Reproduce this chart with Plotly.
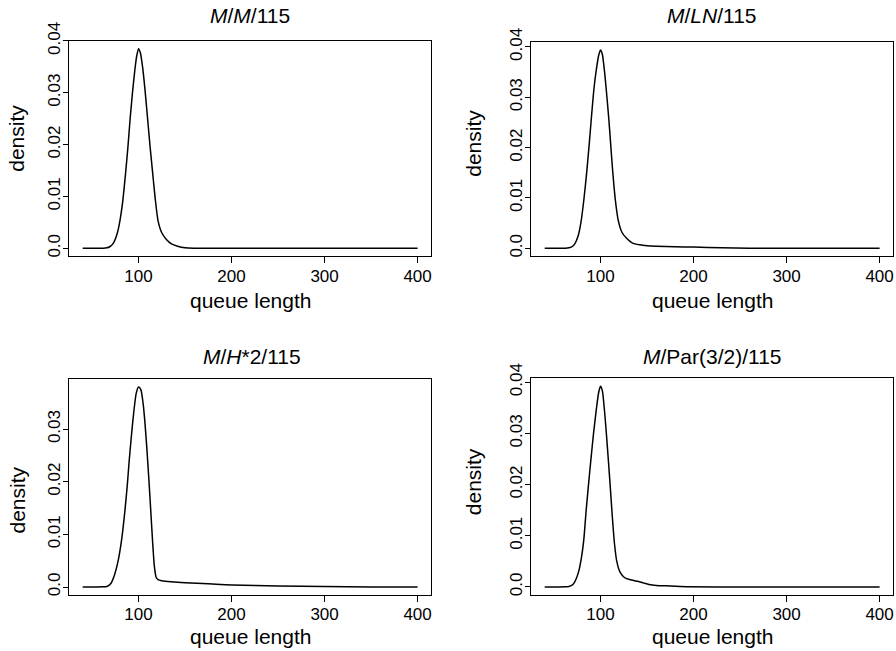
import plotly.graph_objects as go

# ---- data ----
titles = ["<i>M</i>/<i>M</i>/115", "<i>M</i>/<i>LN</i>/115",
          "<i>M</i>/<i>H</i>*2/115", "<i>M</i>/Par(3/2)/115"]

x1 = [40, 55, 62, 66, 69, 73, 77, 80, 83, 86, 88.5, 91, 93.5, 96, 98, 100, 102, 104.5,
      107, 110, 112.5, 115, 118, 121, 125, 130, 135, 142, 150, 160, 200, 300, 400]
y1 = [0, 0, 0.00002, 0.0001, 0.0003, 0.001, 0.0028, 0.0053, 0.009, 0.0143, 0.0193, 0.0250,
      0.0300, 0.0343, 0.0370, 0.0385, 0.0377, 0.0348, 0.0305, 0.0245, 0.0195, 0.0149, 0.0095,
      0.0053, 0.0030, 0.0017, 0.0009, 0.0004, 0.0001, 0.00003, 0, 0, 0]

x2 = [40, 55, 62, 66, 69, 72, 76, 79, 82, 85, 88, 90, 93, 95.5, 98, 100, 102, 104.5, 107,
      109, 111, 113, 116, 119, 123, 128, 134, 142, 150, 160, 180, 200, 230, 260, 300, 400]
y2 = [0, 0, 0.00002, 0.0001, 0.0003, 0.0008, 0.0025, 0.0052, 0.0095, 0.0148, 0.0210, 0.0255,
      0.0318, 0.0355, 0.0383, 0.0394, 0.0385, 0.0348, 0.0298, 0.0255, 0.0205, 0.0155, 0.0095,
      0.0056, 0.0032, 0.0020, 0.0011, 0.0007, 0.0005, 0.0004, 0.0003, 0.00025, 0.0001,
      0.00004, 0, 0]

x3 = [40, 55, 62, 66, 70, 74, 78, 82, 85.5, 88, 90, 92.5, 95, 97.5, 100, 102.5, 105, 107,
      109, 111, 113, 115, 117, 119, 121, 125, 135, 150, 175, 200, 250, 300, 350, 400]
y3 = [0, 0, 0.00003, 0.0001, 0.0006, 0.0022, 0.0049, 0.0092, 0.0147, 0.0195, 0.0240, 0.0290,
      0.0334, 0.0368, 0.0380, 0.0375, 0.0348, 0.0310, 0.0262, 0.0208, 0.0150, 0.0090, 0.0040,
      0.0018, 0.0014, 0.0012, 0.0010, 0.0008, 0.0006, 0.0004, 0.0002, 0.00008, 0.00002, 0]

x4 = [40, 55, 62, 66, 69, 72, 76, 79, 82, 84.5, 87, 89.5, 92.5, 95.5, 98, 100, 102, 104.5,
      106.5, 108.5, 110.5, 112.5, 115, 117.5, 121, 126, 132, 140, 146, 152, 160, 175, 195,
      250, 400]
y4 = [0, 0, 0.00002, 0.0001, 0.0003, 0.0009, 0.0027, 0.0052, 0.0092, 0.0148, 0.0198, 0.0246,
      0.0300, 0.0347, 0.0380, 0.0392, 0.0383, 0.0340, 0.0295, 0.0246, 0.0195, 0.0142, 0.0085,
      0.0050, 0.0029, 0.0018, 0.0014, 0.0011, 0.0008, 0.0005, 0.0003, 0.0002, 0.00005, 0, 0]

xticks = [100, 200, 300, 400]
yticks_full = [0, 0.01, 0.02, 0.03, 0.04]
yticklabels_full = ["0.0", "0.01", "0.02", "0.03", "0.04"]

series = [(x1, y1), (x2, y2), (x3, y3), (x4, y4)]

# ---- layout geometry (pixels) ----
W, H = 896, 651
FONT = "Liberation Sans, Arial, Helvetica, sans-serif"
boxes = [  # left, right, top, bottom
    (69.3, 431.0, 40.7, 256.3),
    (531.3, 893.0, 42.0, 256.3),
    (69.3, 431.0, 379.0, 595.0),
    (531.3, 893.0, 378.3, 595.0),
]
yranges = [[-0.00154, 0.04004], [-0.00158, 0.04098], [-0.00152, 0.03952], [-0.00157, 0.04077]]
xrange_ = [25.6, 414.4]
title_pos = [(250.2, 15.5), (712.0, 15.5), (251.7, 356.7), (712.0, 356.7)]
xlab_pos = [(250.2, 300.5), (712.0, 300.5), (250.2, 636.5), (712.0, 636.5)]
ylab_pos = [(16.5, 138.3), (473.5, 143.3), (16.5, 500.0), (473.5, 481.7)]

fig = go.Figure()
annotations = []
layout_axes = {}
for i, ((xs, ys), (l, r, t, b)) in enumerate(zip(series, boxes)):
    n = "" if i == 0 else str(i + 1)
    fig.add_trace(go.Scatter(x=xs, y=ys, mode="lines",
                             line=dict(color="black", width=1.5, shape="spline", smoothing=0.6),
                             xaxis="x" + n, yaxis="y" + n, showlegend=False,
                             hoverinfo="skip"))
    vis = [v for v in yticks_full if v <= yranges[i][1]]
    layout_axes["xaxis" + n] = dict(
        domain=[l / W, r / W], anchor="y" + n, range=xrange_, automargin=False,
        tickmode="array", tickvals=xticks, ticktext=[str(v) for v in xticks],
        ticks="outside", ticklen=6, tickwidth=1, tickcolor="black", ticklabelstandoff=-2,
        showline=True, mirror=True, linecolor="black", linewidth=1,
        showgrid=False, zeroline=False,
        tickfont=dict(family=FONT, size=17, color="black"))
    layout_axes["yaxis" + n] = dict(
        domain=[1 - b / H, 1 - t / H], anchor="x" + n, range=yranges[i], automargin=False,
        tickmode="array", tickvals=vis,
        ticktext=[yticklabels_full[yticks_full.index(v)] for v in vis],
        ticks="outside", ticklen=5, tickwidth=1, tickcolor="black", tickangle=-90,
        ticklabelstandoff=-3,
        showline=True, mirror=True, linecolor="black", linewidth=1,
        showgrid=False, zeroline=False,
        tickfont=dict(family=FONT, size=17, color="black"))
    tx, ty = title_pos[i]
    annotations.append(dict(text=titles[i], x=tx / W, y=1 - ty / H, xref="paper", yref="paper",
                            xanchor="center", yanchor="middle", showarrow=False,
                            font=dict(family=FONT, size=21, color="black")))
    lx, ly = xlab_pos[i]
    annotations.append(dict(text="queue length", x=lx / W, y=1 - ly / H, xref="paper",
                            yref="paper", xanchor="center", yanchor="middle", showarrow=False,
                            font=dict(family=FONT, size=21, color="black")))
    dx, dy = ylab_pos[i]
    annotations.append(dict(text="density", x=dx / W, y=1 - dy / H, xref="paper",
                            yref="paper", xanchor="center", yanchor="middle", showarrow=False,
                            textangle=-90, font=dict(family=FONT, size=21, color="black")))

fig.update_layout(width=W, height=H, margin=dict(l=0, r=0, t=0, b=0, pad=0),
                  autosize=False,
                  paper_bgcolor="white", plot_bgcolor="white",
                  annotations=annotations, **layout_axes)

fig.write_html("out.html", config={"responsive": False, "displayModeBar": False},
               post_script="document.body.style.margin='0';document.body.style.overflow='hidden';")
